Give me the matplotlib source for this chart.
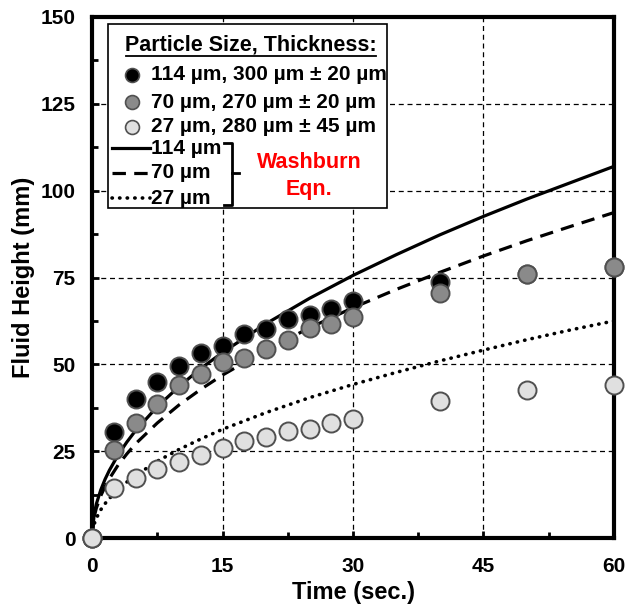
import numpy as np
import matplotlib
matplotlib.use('Agg')
import matplotlib.pyplot as plt
from matplotlib.lines import Line2D
from matplotlib.patches import Rectangle
from matplotlib.ticker import MultipleLocator

plt.rcParams['font.family'] = ['Liberation Sans', 'DejaVu Sans']
plt.rcParams['font.weight'] = 'bold'

# measured fluid heights (mm) vs time (s)
t_data = [0, 2.5, 5, 7.5, 10, 12.5, 15, 17.5, 20, 22.5, 25, 27.5, 30, 40, 50, 60]
h_114 = [0, 30.4, 40.0, 45.0, 49.6, 53.3, 55.3, 58.7, 60.2, 63.0, 64.2, 66.0, 68.2, 73.6, 76.0, 78.0]
h_70 = [0, 25.2, 33.0, 38.7, 44.0, 47.3, 50.7, 51.9, 54.4, 57.0, 60.5, 61.6, 63.6, 70.5, 76.0, 78.0]
h_27 = [0, 14.3, 17.2, 19.8, 22.0, 24.0, 25.8, 27.8, 29.2, 30.7, 31.5, 33.2, 34.4, 39.3, 42.7, 44.1]

# Washburn curves
t_fit = [0, 0.25, 0.5, 1, 1.5, 2, 3, 4, 5, 7.5, 10, 12.5, 15, 20, 25, 30, 35, 40, 45, 50, 55, 60]
w_114 = [0, 6.9, 9.8, 13.8, 16.9, 19.5, 23.9, 27.6, 30.9, 37.8, 43.6, 48.8, 53.4, 61.7, 69.0, 75.6, 81.6, 87.3, 92.6, 97.6, 102.3, 107.0]
w_70 = [0, 6.1, 8.6, 12.1, 14.8, 17.1, 21.0, 24.2, 27.1, 33.1, 38.3, 42.8, 46.9, 54.1, 60.5, 66.3, 71.6, 76.5, 81.2, 85.6, 89.7, 93.7]
w_27 = [0, 4.0, 5.7, 8.1, 9.9, 11.4, 14.0, 16.1, 18.0, 22.1, 25.5, 28.5, 31.3, 36.1, 40.4, 44.2, 47.7, 51.0, 54.1, 57.1, 59.9, 62.5]

BOT = 538
TOP = 17
fig = plt.figure(figsize=(6.28, 6.11), dpi=100)
ax = fig.add_axes([92/628, (611 - BOT)/611, 522/628, (BOT - TOP)/611])

dash70 = (4.2, 2.6)
dot27 = (0.1, 2.0)
ax.plot(t_fit, w_114, '-', color='black', lw=2.3, zorder=3)
ax.plot(t_fit, w_70, '--', color='black', lw=2.3, dashes=dash70, zorder=3)
ax.plot(t_fit, w_27, ':', color='black', lw=2.6, dashes=dot27,
        dash_capstyle='round', zorder=3)

mk = dict(marker='o', ls='none', ms=13, mew=1.4, mec='#505050', clip_on=False)
ax.plot(t_data, h_114, mfc='black', zorder=5, **mk)
ax.plot(t_data, h_70, mfc='#8a8a8a', zorder=6, **mk)
ax.plot(t_data, h_27, mfc='#e0e0e0', zorder=7, **mk)

ax.set_xlim(0, 60)
ax.set_ylim(0, 150)
ax.xaxis.set_major_locator(MultipleLocator(15))
ax.xaxis.set_minor_locator(MultipleLocator(7.5))
ax.yaxis.set_major_locator(MultipleLocator(25))
ax.yaxis.set_minor_locator(MultipleLocator(12.5))
ax.tick_params(which='both', direction='in', width=2, labelsize=15)
ax.tick_params(which='major', length=5)
ax.tick_params(axis='x', which='major', pad=14)
ax.tick_params(axis='y', which='major', pad=12)
ax.tick_params(which='minor', length=4)
ax.grid(True, which='major', color='black', ls='--', lw=0.9, dashes=(4, 3))
for s in ax.spines.values():
    s.set_linewidth(3)
    s.set_zorder(4)

ax.set_xlabel('Time (sec.)', fontsize=17, fontweight='bold', labelpad=3)
ax.set_ylabel('Fluid Height (mm)', fontsize=17, fontweight='bold', labelpad=4)

def ax_xy(px, py):
    return (px - 92) / 522, (BOT - py) / (BOT - TOP)

tr = ax.transAxes
x0, y0 = ax_xy(108, 208)
x1, y1 = ax_xy(387, 24)
ax.add_patch(Rectangle((x0, y0), x1 - x0, y1 - y0, transform=tr, fc='white',
                       ec='black', lw=1.2, zorder=8))

tx, ty = ax_xy(251, 45)
ax.text(tx, ty, 'Particle Size, Thickness:', transform=tr, ha='center', va='center',
        fontsize=15.5, fontweight='bold', zorder=9)
ux0, uy = ax_xy(126, 56)
ux1, _ = ax_xy(376, 56)
ax.add_line(Line2D([ux0, ux1], [uy, uy], transform=tr, color='black', lw=1.3, zorder=9))

labels = ['114 µm, 300 µm ± 20 µm', '70 µm, 270 µm ± 20 µm', '27 µm, 280 µm ± 45 µm']
faces = ['black', '#8a8a8a', '#e0e0e0']
for lab, fc, py in zip(labels, faces, [75, 102, 127]):
    mx, my = ax_xy(132, py)
    ax.plot([mx], [my], 'o', transform=tr, ms=10, mfc=fc, mec='#505050', mew=1.2, zorder=9)
    lx, _ = ax_xy(151, py)
    ax.text(lx, my, lab, transform=tr, ha='left', va='center', fontsize=15,
            fontweight='bold', zorder=9)

line_styles = [dict(ls='-', lw=2.3), dict(ls='--', dashes=dash70, lw=2.3),
               dict(ls=':', dashes=dot27, dash_capstyle='round', lw=2.6)]
for lab, st, py in zip(['114 µm', '70 µm', '27 µm'], line_styles, [148, 173, 198]):
    lx0, ly = ax_xy(112, py)
    lx1, _ = ax_xy(150, py)
    ax.add_line(Line2D([lx0, lx1], [ly, ly], transform=tr, color='black', zorder=9, **st))
    lx, _ = ax_xy(151, py)
    ax.text(lx, ly, lab, transform=tr, ha='left', va='center', fontsize=15,
            fontweight='bold', zorder=9)

# bracket
bx, btop = ax_xy(232, 143)
bl, bbot = ax_xy(224, 205)
_, bmid = ax_xy(232, 173)
tip, _ = ax_xy(239, 173)
ax.add_line(Line2D([bl, bx, bx, bl], [btop, btop, bbot, bbot], transform=tr,
                   color='black', lw=2, zorder=9))
ax.add_line(Line2D([bx, tip], [bmid, bmid], transform=tr, color='black', lw=2, zorder=9))

wx, wy = ax_xy(309, 163)
ax.text(wx, wy, 'Washburn', transform=tr, ha='center', va='center', fontsize=15.5,
        fontweight='bold', color='#ff0000', zorder=9)
_, ey = ax_xy(309, 190)
ax.text(wx, ey, 'Eqn.', transform=tr, ha='center', va='center', fontsize=15.5,
        fontweight='bold', color='#ff0000', zorder=9)

fig.savefig('out.png', dpi=100)
